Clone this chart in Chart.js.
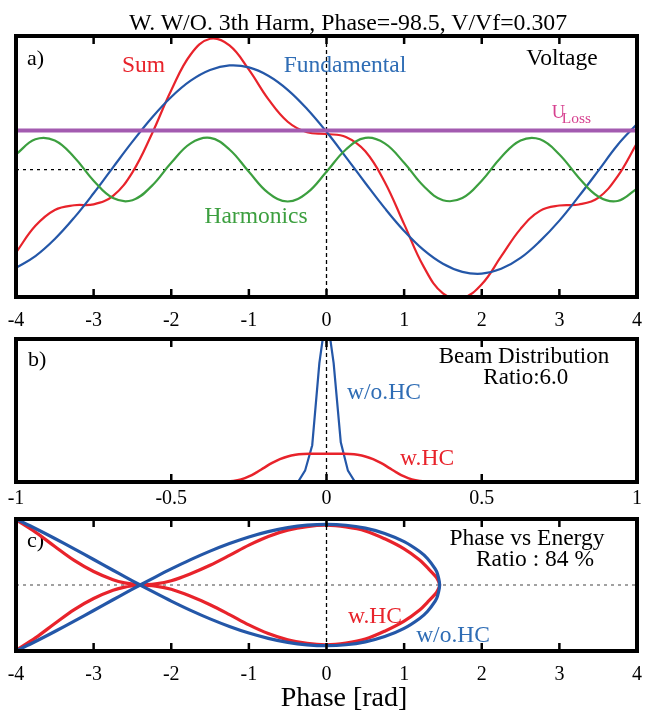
<!DOCTYPE html>
<html lang="en">
<head>
  <meta charset="UTF-8">
  <title>W. W/O. 3th Harm</title>
  <script src="https://cdn.jsdelivr.net/npm/chart.js"></script>
  <style>
    body { margin: 0; background: #fff; font-family: "Liberation Serif", "Times New Roman", serif; }
    #page { position: relative; width: 647px; height: 715px; overflow: hidden; }
    .panel { position: absolute; left: 0; width: 647px; }
    .txt { position: absolute; text-align: center; color: #000; white-space: nowrap; z-index: 2; }
  </style>
</head>
<body>
<div id="page">
  <div class="txt" style="left:48px; width:600px; top:11px; font-size:23.8px; line-height:23px;">W. W/O. 3th Harm, Phase=-98.5, V/Vf=0.307</div>
  <div class="panel" style="top:0; height:337px"><canvas id="chartA"></canvas></div>
  <div class="panel" style="top:337px; height:179px"><canvas id="chartB"></canvas></div>
  <div class="panel" style="top:516px; height:199px"><canvas id="chartC"></canvas></div>
  <div class="txt" style="left:244px; width:200px; top:683px; font-size:28px; line-height:28px;">Phase [rad]</div>
</div>
<script>
  // a) voltage vs phase
  const phaseA = [-4, -3.75, -3.5, -3.25, -3, -2.75, -2.5, -2.25, -2, -1.75, -1.5, -1.25, -1, -0.75, -0.5, -0.25,
                  0, 0.25, 0.5, 0.75, 1, 1.25, 1.5, 1.75, 2, 2.25, 2.5, 2.75, 3, 3.25, 3.5, 3.75, 4];
  const fundamental = [-0.754, -0.664, -0.533, -0.369, -0.182, 0.017, 0.214, 0.398, 0.557, 0.682, 0.764, 0.799, 0.784, 0.720, 0.612, 0.465,
                       0.290, 0.096, -0.103, -0.296, -0.471, -0.617, -0.723, -0.785, -0.799, -0.762, -0.678, -0.549, -0.392, -0.206, -0.010, 0.189, 0.350];
  const harmonics = [0.117, 0.232, 0.223, 0.095, -0.085, -0.219, -0.235, -0.125, 0.052, 0.201, 0.243, 0.154, -0.017, -0.179, -0.245, -0.179,
                     -0.017, 0.154, 0.243, 0.201, 0.052, -0.126, -0.235, -0.219, -0.085, 0.095, 0.223, 0.232, 0.116, -0.062, -0.207, -0.241, -0.146];
  const voltageSum = [-0.637, -0.432, -0.310, -0.274, -0.267, -0.202, -0.021, 0.273, 0.609, 0.883, 1.004, 0.953, 0.767, 0.541, 0.367, 0.286,
                      0.273, 0.250, 0.140, -0.095, -0.419, -0.743, -0.950, -0.985, -0.880, -0.667, -0.455, -0.317, -0.276, -0.268, -0.217, -0.052, 0.204];
  const uLossPhase = [-4, 4];
  const uLoss = [0.299, 0.299];

  // b) beam distribution
  const phaseWithHC = [-0.35, -0.325, -0.3, -0.275, -0.25, -0.225, -0.2, -0.175, -0.15, -0.125, -0.1, -0.075, -0.05, -0.025, 0,
                       0.025, 0.05, 0.075, 0.1, 0.125, 0.15, 0.175, 0.2, 0.225, 0.25, 0.275, 0.3, 0.325, 0.35];
  const densityWithHC = [0.002, 0.009, 0.034, 0.091, 0.195, 0.342, 0.510, 0.675, 0.809, 0.903, 0.959, 0.987, 0.997, 1.0, 1.0,
                         1.0, 0.997, 0.987, 0.959, 0.903, 0.809, 0.675, 0.510, 0.342, 0.195, 0.091, 0.034, 0.009, 0.002];
  const phaseNoHC = [-0.092, -0.069, -0.046, -0.023, 0, 0.023, 0.046, 0.069, 0.092];
  const densityNoHC = [0, 0.4, 1.3, 4.2, 6.0, 4.2, 1.4, 0.4, 0];

  // c) phase vs energy (separatrix, upper half; lower half is its mirror)
  const tailPhase = [-4, -3.75, -3.5, -3.25, -3, -2.75, -2.6, -2.4];
  const tailNoHC = [1.372, 1.175, 0.967, 0.751, 0.530, 0.307, 0.173, 0];
  const tailWithHC = [1.36, 1.10, 0.80, 0.51, 0.28, 0.11, 0.045, 0];
  const bucketPhase = [-2.4, -2.2, -2, -1.75, -1.5, -1.25, -1, -0.75, -0.5, -0.25, 0, 0.25, 0.5, 0.75, 1, 1.2, 1.3, 1.4, 1.43, 1.457];
  const bucketNoHC = [0, 0.170, 0.334, 0.527, 0.704, 0.862, 0.999, 1.109, 1.192, 1.243, 1.261, 1.242, 1.181, 1.072, 0.901, 0.695, 0.550, 0.335, 0.230, 0];
  const bucketWithHC = [0, 0.025, 0.09, 0.235, 0.41, 0.615, 0.83, 1.01, 1.14, 1.215, 1.242, 1.206, 1.124, 0.96, 0.751, 0.52, 0.36, 0.19, 0.12, 0];

  const phaseTicks = [-4, -3, -2, -1, 0, 1, 2, 3, 4];
  const distTicks = [-1, -0.5, 0, 0.5, 1];

  const RED = '#e8232b', BLUE = '#2457a8', LBLUE = '#2f6db5', GREEN = '#3c9f3f', PURPLE = '#a35bb0', PINK = '#d6408f';

  Chart.defaults.font.family = '"Liberation Serif", "Times New Roman", serif';

  const pts = (xs, ys) => xs.map((x, i) => ({ x: x, y: ys[i] }));

  function separatrix(tail, bucket) {
    const out = [];
    tailPhase.forEach((x, i) => out.push({ x: x, y: tail[i] }));
    bucketPhase.forEach((x, i) => { if (i > 0) out.push({ x: x, y: -bucket[i] }); });
    for (let i = bucketPhase.length - 2; i >= 0; i--) out.push({ x: bucketPhase[i], y: bucket[i] });
    for (let i = tailPhase.length - 2; i >= 0; i--) out.push({ x: tailPhase[i], y: -tail[i] });
    return out;
  }

  // frame, inner ticks, zero guides and labels
  const framePlugin = {
    id: 'frame',
    beforeDatasetsDraw(chart, args, opts) {
      const { ctx, chartArea: a, scales: { x, y } } = chart;
      ctx.save();
      if (opts.vGuide) {
        ctx.strokeStyle = '#000'; ctx.lineWidth = 1.3; ctx.setLineDash([4, 3]);
        const px = x.getPixelForValue(0);
        ctx.beginPath(); ctx.moveTo(px, a.top); ctx.lineTo(px, a.bottom); ctx.stroke();
      }
      if (opts.hGuide) {
        ctx.strokeStyle = opts.hColor || '#000'; ctx.lineWidth = 1.2; ctx.setLineDash([3, 4]);
        const py = y.getPixelForValue(0);
        ctx.beginPath(); ctx.moveTo(a.left, py); ctx.lineTo(a.right, py); ctx.stroke();
      }
      ctx.setLineDash([]);
      ctx.textBaseline = 'alphabetic';
      for (const t of opts.texts || []) {
        ctx.font = t.size + 'px "Liberation Serif"';
        ctx.fillStyle = t.color || '#000';
        ctx.textAlign = t.align || 'center';
        ctx.fillText(t.text, x.getPixelForValue(t.x), y.getPixelForValue(t.y));
      }
      ctx.restore();
    },
    afterDatasetsDraw(chart) {
      const { ctx, chartArea: a, scales: { x } } = chart;
      ctx.save();
      ctx.strokeStyle = '#000';
      ctx.lineWidth = 2.5;
      for (const t of x.ticks) {
        const px = x.getPixelForValue(t.value);
        if (px <= a.left + 2 || px >= a.right - 2) continue;
        ctx.beginPath();
        ctx.moveTo(px, a.top); ctx.lineTo(px, a.top + 8);
        ctx.moveTo(px, a.bottom); ctx.lineTo(px, a.bottom - 8);
        ctx.stroke();
      }
      ctx.lineWidth = 4;
      ctx.strokeRect(a.left, a.top, a.right - a.left, a.bottom - a.top);
      ctx.restore();
    }
  };

  function panel(id, cfg) {
    return new Chart(document.getElementById(id), {
      type: 'scatter',
      data: { datasets: cfg.datasets },
      options: {
        responsive: true,
        maintainAspectRatio: false,
        animation: false,
        events: [],
        layout: { padding: { left: 16, right: 10, top: cfg.padTop, bottom: 0 } },
        elements: { point: { radius: 0 } },
        scales: {
          x: {
            type: 'linear',
            min: cfg.ticks[0],
            max: cfg.ticks[cfg.ticks.length - 1],
            afterBuildTicks: s => { s.ticks = cfg.ticks.map(v => ({ value: v })); },
            afterFit: s => { s.height = cfg.axisHeight; },
            grid: { display: false, drawTicks: false },
            border: { display: false },
            // label offset below the frame comes from the line height, padding stays 0
            ticks: { padding: 0, color: '#000', font: { size: 20, lineHeight: cfg.labelLine }, maxRotation: 0, autoSkip: false,
                     callback: v => String(v) }
          },
          y: { display: false, min: cfg.yMin, max: cfg.yMax }
        },
        plugins: {
          legend: { display: false },
          tooltip: { enabled: false },
          frame: cfg.frame
        }
      },
      plugins: [framePlugin]
    });
  }

  const line = (data, color, width, tension) =>
    ({ data: data, showLine: true, borderColor: color, borderWidth: width, tension: tension, fill: false, pointRadius: 0 });

  panel('chartA', {
    ticks: phaseTicks, yMin: -0.978, yMax: 1.025, padTop: 36, axisHeight: 40, labelLine: 2.33,
    datasets: [
      line(pts(uLossPhase, uLoss), PURPLE, 4, 0),
      line(pts(phaseA, harmonics), GREEN, 2.2, 0.4),
      line(pts(phaseA, fundamental), BLUE, 2.2, 0.4),
      line(pts(phaseA, voltageSum), RED, 2.2, 0.4)
    ],
    frame: {
      vGuide: true, hGuide: true,
      texts: [
        { text: 'a)', x: -3.858, y: 0.802, size: 22, align: 'left' },
        { text: 'Sum', x: -2.357, y: 0.745, size: 23.5, color: RED },
        { text: 'Fundamental', x: 0.238, y: 0.745, size: 23.5, color: LBLUE },
        { text: 'Voltage', x: 3.034, y: 0.802, size: 23.5 },
        { text: 'U', x: 2.901, y: 0.393, size: 18.5, color: PINK, align: 'left' },
        { text: 'Loss', x: 3.030, y: 0.355, size: 15.5, color: PINK, align: 'left' },
        { text: 'Harmonics', x: -0.908, y: -0.408, size: 23.5, color: GREEN }
      ]
    }
  });

  panel('chartB', {
    ticks: distTicks, yMin: 0, yMax: 5.05, padTop: 2, axisHeight: 34, labelLine: 1.63,
    datasets: [
      line(pts(phaseWithHC, densityWithHC), RED, 2.5, 0.4),
      line(pts(phaseNoHC, densityNoHC), BLUE, 2.2, 0)
    ],
    frame: {
      vGuide: true, hGuide: false,
      texts: [
        { text: 'b)', x: -0.961, y: 4.10, size: 22, align: 'left' },
        { text: 'Beam Distribution', x: 0.636, y: 4.19, size: 23 },
        { text: 'Ratio:6.0', x: 0.642, y: 3.45, size: 23 },
        { text: 'w/o.HC', x: 0.185, y: 2.93, size: 23.5, color: LBLUE },
        { text: 'w.HC', x: 0.324, y: 0.60, size: 23.5, color: RED }
      ]
    }
  });

  panel('chartC', {
    ticks: phaseTicks, yMin: -1.372, yMax: 1.372, padTop: 3, axisHeight: 64, labelLine: 2.38,
    datasets: [
      line(separatrix(tailNoHC, bucketNoHC), BLUE, 3.2, 0.35),
      line(separatrix(tailWithHC, bucketWithHC), RED, 3.2, 0.35)
    ],
    frame: {
      vGuide: true, hGuide: true, hColor: '#444',
      texts: [
        { text: 'c)', x: -3.858, y: 0.79, size: 22, align: 'left' },
        { text: 'Phase vs Energy', x: 2.583, y: 0.83, size: 23.5 },
        { text: 'Ratio : 84 %', x: 2.686, y: 0.395, size: 23.5 },
        { text: 'w.HC', x: 0.625, y: -0.79, size: 23.5, color: RED },
        { text: 'w/o.HC', x: 1.63, y: -1.175, size: 23.5, color: LBLUE }
      ]
    }
  });
</script>
</body>
</html>
